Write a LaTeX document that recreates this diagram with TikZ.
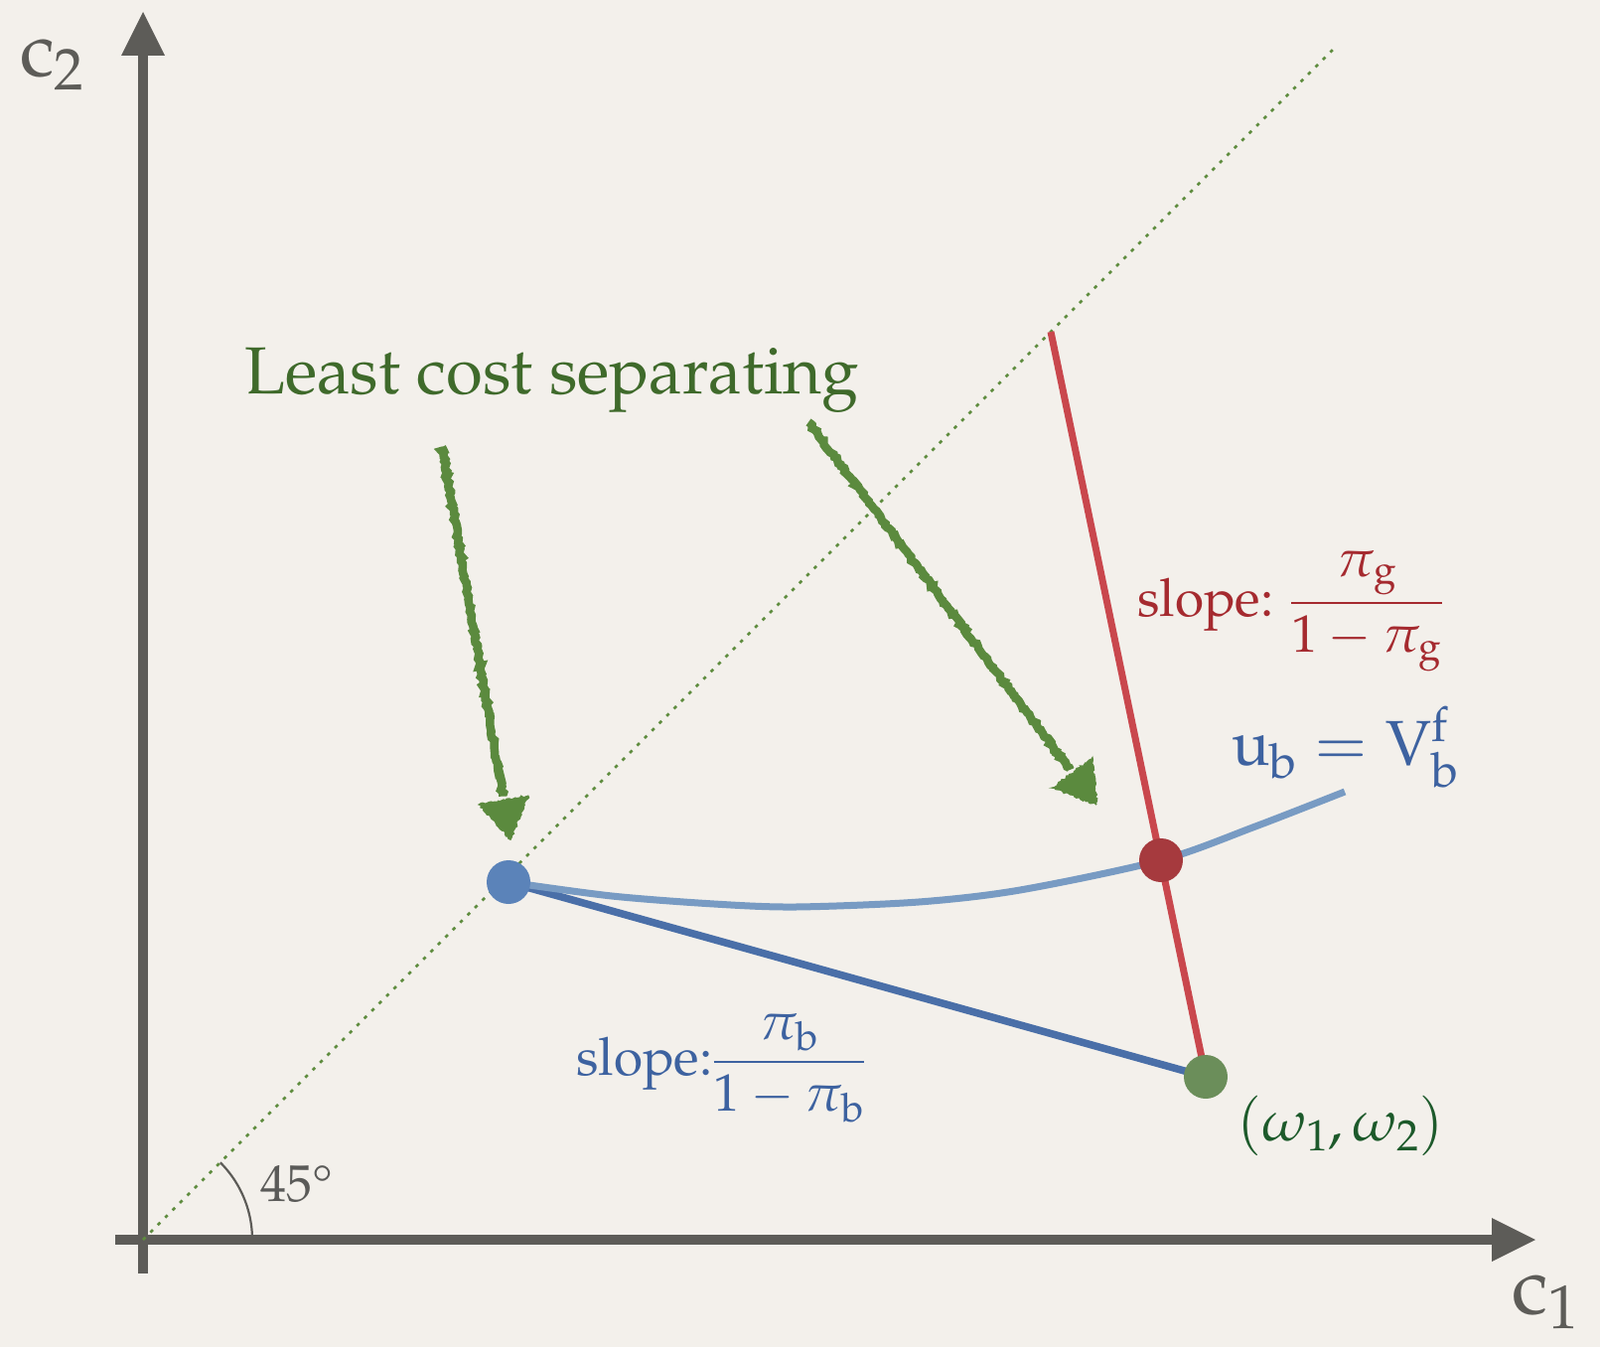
\documentclass[tikz,border=0pt]{standalone}
\usepackage[T1]{fontenc}
\usepackage{amsmath}
\usepackage{mathpazo}
\usetikzlibrary{calc,decorations.pathmorphing}
\definecolor{bgc}{HTML}{F3F0EB}
\definecolor{axisc}{HTML}{5D5C58}
\definecolor{diagc}{HTML}{5E8C3E}
\definecolor{chalkc}{HTML}{5B8A3E}
\definecolor{redline}{HTML}{C9474D}
\definecolor{reddot}{HTML}{A63A3E}
\definecolor{redtxt}{HTML}{A52A2F}
\definecolor{blueline}{HTML}{4A6FA8}
\definecolor{bluecurve}{HTML}{789BC3}
\definecolor{bluedot}{HTML}{5B83B9}
\definecolor{bluetxt}{HTML}{3D62A0}
\definecolor{greendot}{HTML}{6B8E5A}
\definecolor{omegatxt}{HTML}{1D5A2B}
\definecolor{lcstxt}{HTML}{3F6A2B}
\definecolor{angtxt}{HTML}{5A5A58}
\begin{document}
\begin{tikzpicture}[x=1pt,y=-1pt,
  axisline/.style={line width=10pt, draw=axisc},
  axishead/.style={fill=axisc},
  diagline/.style={draw=diagc, line width=2.6pt, dash pattern=on 3.5pt off 7pt},
  chalkline/.style={draw=chalkc, line width=8.5pt, decorate,
     decoration={random steps, segment length=2.5pt, amplitude=1.4pt}},
  chalkhead/.style={fill=chalkc, draw=chalkc, line width=1.5pt, decorate,
     decoration={random steps, segment length=2pt, amplitude=1.2pt}},
  dotnode/.style={circle, inner sep=0pt, minimum size=44pt},
  lbl/.style={inner sep=0pt, anchor=base west}]
\fill[bgc] (0,0) rectangle (1611,1356);
\useasboundingbox (0,0) rectangle (1611,1356);
% key coordinates
\coordinate (O) at (144,1248);
\coordinate (ybot) at (144,1282);
\coordinate (ytip) at (144,12);
\coordinate (xleft) at (116,1248);
\coordinate (xtip) at (1546,1248);
\coordinate (diagend) at (1346,46);
\coordinate (b) at (512,888);
\coordinate (r) at (1169,866);
\coordinate (g) at (1214,1084);
\coordinate (rtop) at (1058,334);
\coordinate (uend) at (1354,797);
% axes
\draw[axisline] (ybot) -- ($(ytip)+(0,44)$);
\fill[axishead] (ytip) -- ($(ytip)+(-22,44)$) -- ($(ytip)+(22,44)$) -- cycle;
\draw[axisline] (xleft) -- ($(xtip)+(-44,0)$);
\fill[axishead] (xtip) -- ($(xtip)+(-44,-22)$) -- ($(xtip)+(-44,22)$) -- cycle;
% 45 degree line
\draw[diagline] (O) -- (diagend);
% angle arc
\draw[axisc, line width=2.2pt] plot[domain=0:45, samples=40] ({144+110*cos(\x)},{1248-110*sin(\x)});
% lines
\draw[redline, line width=7pt] (rtop) -- (g);
\draw[blueline, line width=7.5pt] (b) -- (g);
\draw[bluecurve, line width=7pt] plot[smooth] coordinates {(b) (616,902) (719,910) (801,913) (925,908) (1027,896) (r) (1264,832) (uend)};
% dots
\node[dotnode, fill=bluedot] (B) at (b) {};
\node[dotnode, fill=reddot] (R) at (r) {};
\node[dotnode, fill=greendot] (G) at (g) {};
% chalk arrows
\coordinate (s1) at (445,450);
\coordinate (t1) at (514,845);
\coordinate (s2) at (814,425);
\coordinate (t2) at (1104,810);
\foreach \s/\t in {s1/t1, s2/t2}{
  \coordinate (bc) at ($(\t)!40pt!(\s)$);
  \draw[chalkline] (\s) -- ($(bc)!-4pt!(\t)$);
  \path[chalkhead] (\t) -- ($(bc)!25pt!90:(\t)$) -- ($(bc)!25pt!-90:(\t)$) -- cycle;
}
% labels
\node[lbl, text=axisc, font=\fontsize{78}{94}\selectfont] (c2) at (20,77) {$\mathrm{c}_2$};
\node[lbl, text=axisc, font=\fontsize{82}{98}\selectfont] (c1) at (1522,1322) {$\mathrm{c}_1$};
\node[lbl, text=lcstxt, font=\fontsize{67}{80}\selectfont] (lcs) at (246,396) {Least cost separating};
\node[lbl, text=redtxt, font=\fontsize{53}{64}\selectfont] (sg) at (1145,620) {slope: $\dfrac{\pi_{\mathrm{g}}}{1-\pi_{\mathrm{g}}}$};
\node[lbl, text=bluetxt, font=\fontsize{53}{64}\selectfont] (sb) at (580,1082) {slope:$\dfrac{\pi_{\mathrm{b}}}{1-\pi_{\mathrm{b}}}$};
\node[lbl, text=bluetxt, font=\fontsize{64}{76}\selectfont] (ub) at (1240,770) {$\mathrm{u}_{\mathrm{b}} = \mathrm{V}_{\mathrm{b}}^{\mathrm{f}}$};
\node[lbl, text=omegatxt, font=\fontsize{58}{70}\selectfont] (om) at (1246,1148) {$(\omega_1,\omega_2)$};
\node[lbl, text=angtxt, font=\fontsize{52}{62}\selectfont] (ang) at (262,1209) {45\textdegree};
\end{tikzpicture}
\end{document}
